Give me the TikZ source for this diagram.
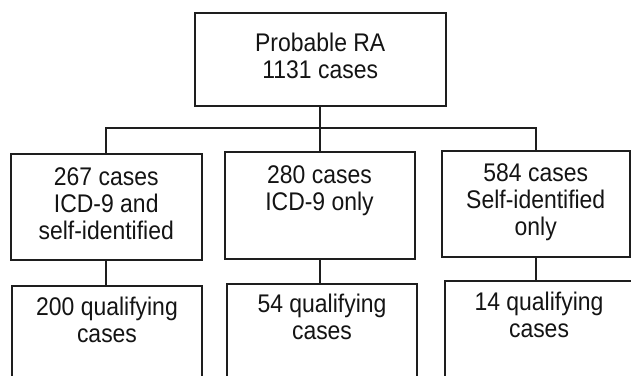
\documentclass[tikz,border=0pt]{standalone}
\usepackage{fontspec}
\setmainfont[FakeStretch=0.9]{Liberation Sans}
\definecolor{linec}{HTML}{1E1E1E}
\definecolor{textc}{HTML}{141414}
\begin{document}
\begin{tikzpicture}[x=1pt,y=-1pt,
  box/.style={draw=linec, line width=2pt, inner sep=0pt, outer sep=0pt, anchor=north west},
  conn/.style={draw=linec, line width=2pt},
  txt/.style={anchor=north, inner sep=0pt, align=center, text=textc,
              font=\fontsize{25.5}{27}\selectfont}]
\useasboundingbox (0,0) rectangle (631,375);
\fill[white] (0,0) rectangle (631,375);
\clip (0,0) rectangle (631,375);
% boxes
\node[box, minimum width=250.5pt, minimum height=93pt] (top) at (195,13) {};
\node[box, minimum width=190.5pt, minimum height=106pt] (L) at (11,154) {};
\node[box, minimum width=190pt, minimum height=106.5pt] (M) at (224.5,152) {};
\node[box, minimum width=187.5pt, minimum height=106pt] (R) at (442,150.5) {};
\node[box, minimum width=190pt, minimum height=100pt] (L2) at (12,286) {};
\node[box, minimum width=190pt, minimum height=100pt] (M2) at (227,283.5) {};
\node[box, minimum width=195pt, minimum height=100pt] (R2) at (444.5,281) {};
% texts
\node[txt] (ttop) at (320.25,32.7) {Probable RA\\1131 cases};
\node[txt] (tL) at (106.25,167.4) {267 cases\\ICD-9 and\\self-identified};
\node[txt] (tM) at (319.5,165.9) {280 cases\\ICD-9 only};
\node[txt] (tR) at (535.75,163.4) {584 cases\\Self-identified\\only};
\node[txt] (tL2) at (107,296.9) {200 qualifying\\cases};
\node[txt] (tM2) at (322,294.2) {54 qualifying\\cases};
\node[txt] (tR2) at (539,291.7) {14 qualifying\\cases};
% connectors
\draw[conn] (top.south) -- ++(0,22) coordinate (j);
\draw[conn] (L.north) |- (j) -| (R.north);
\draw[conn] (j -| M.north) -- (M.north);
\draw[conn] (L.south) -- (L.south |- L2.north);
\draw[conn] (M.south) -- (M.south |- M2.north);
\draw[conn] (R.south) -- (R.south |- R2.north);
\end{tikzpicture}
\end{document}
